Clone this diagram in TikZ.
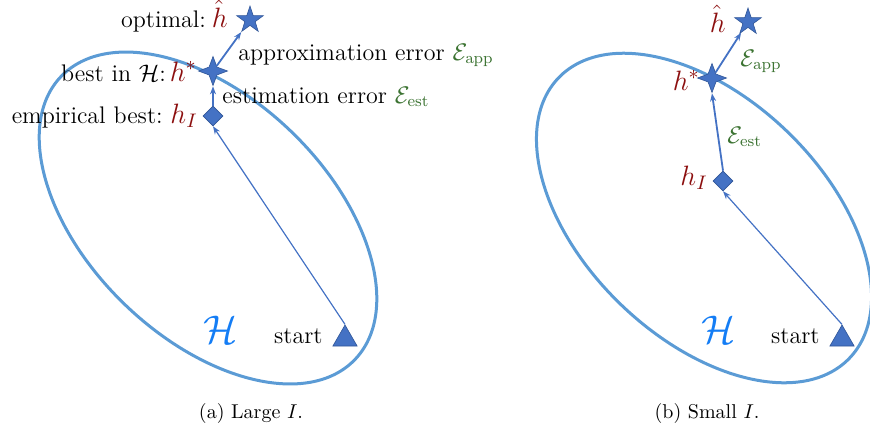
\RequirePackage{fix-cm}
\documentclass[tikz,border=0pt]{standalone}
\usetikzlibrary{shapes.geometric,arrows.meta}
\definecolor{hypblue}{RGB}{91,155,213}
\definecolor{markblue}{RGB}{68,114,196}
\definecolor{markedge}{RGB}{47,85,151}
\definecolor{hred}{RGB}{140,15,15}
\definecolor{errgreen}{RGB}{60,115,50}
\definecolor{calblue}{RGB}{20,125,245}

\begin{document}
\begin{tikzpicture}[x=0.5pt, y=-0.5pt,
		hyp/.style = {draw=hypblue, line width=1.5pt},
		tri/.style = {regular polygon, regular polygon sides=3, fill=markblue, draw=markedge, line width=0.3pt, inner sep=0pt, minimum size=14pt},
		dia/.style = {diamond, fill=markblue, draw=markedge, line width=0.3pt, inner sep=0pt, minimum size=10pt},
		st4/.style = {star, star points=4, star point ratio=2.6, fill=markblue, draw=markedge, line width=0.3pt, inner sep=0pt, minimum size=14.5pt},
		st5/.style = {star, star points=5, star point ratio=2.6, fill=markblue, draw=markedge, line width=0.3pt, inner sep=0pt, minimum size=14pt},
		lab/.style = {font=\fontsize{12}{14}\selectfont, inner sep=0pt},
		hm/.style = {font=\fontsize{14}{16}\selectfont, text=hred, inner sep=0pt},
		hs/.style = {font=\fontsize{20}{24}\selectfont, text=calblue, inner sep=0pt},
		subcap/.style = {font=\fontsize{10}{12}\selectfont, inner sep=0pt},
		r/.style = {-{Stealth[length=4pt, width=3pt]}, draw=markblue, line width=0.9pt},
		rl/.style = {r, line width=0.6pt}
		]
		
		\useasboundingbox (0,0) rectangle (870,429);
		
		%Hypothesis spaces
		\draw[hyp] (208,218) ellipse [x radius=204, y radius=120, rotate=-44];
		\draw[hyp] (704,218) ellipse [x radius=202, y radius=120, rotate=-44];
		
		%Nodes (a)
		\node[tri]	(s1)	at	(345,339)	{};
		\node[dia]	(d1)	at	(213,116)	{};
		\node[st4]	(b1)	at	(213,71)	{};
		\node[st5]	(o1)	at	(250,20)	{};
		\node[hs, anchor=base]	(H1)	at	(221,343)	{$\mathcal{H}$};
		\node[lab, anchor=base east]	(ls1)	at	(323,343)	{start};
		\node[hm, anchor=base east]	(mo1)	at	(228,27)	{$\hat{h}$};
		\node[lab, anchor=base east]	(lo1)	at	([xshift=-2.5pt]mo1.base west)	{optimal:};
		\node[hm, anchor=base east]	(mb1)	at	(197,81)	{$h^*$};
		\node[lab, anchor=base east]	(lb1)	at	([xshift=-1.5pt]mb1.base west)	{best in $\mathcal{H}$:};
		\node[hm, anchor=base east]	(md1)	at	(198,123)	{$h_I$};
		\node[lab, anchor=base east]	(ld1)	at	([xshift=-3.5pt]md1.base west)	{empirical best:};
		\node[lab, anchor=base west]	(la1)	at	(238,60)	{approximation error \textcolor{errgreen}{$\mathcal{E}_{\mathrm{app}}$}};
		\node[lab, anchor=base west]	(le1)	at	(222,103)	{estimation error \textcolor{errgreen}{$\mathcal{E}_{\mathrm{est}}$}};
		\node[subcap, anchor=base]	(c1)	at	(251,418)	{(a) Large $I$.};
		
		%Nodes (b)
		\node[tri]	(s2)	at	(842,339)	{};
		\node[dia]	(d2)	at	(723,181)	{};
		\node[st4]	(b2)	at	(712,78)	{};
		\node[st5]	(o2)	at	(748,22)	{};
		\node[hs, anchor=base]	(H2)	at	(719,343)	{$\mathcal{H}$};
		\node[lab, anchor=base east]	(ls2)	at	(820,343)	{start};
		\node[hm, anchor=base east]	(mo2)	at	(726,32)	{$\hat{h}$};
		\node[hm, anchor=base east]	(mb2)	at	(700,90)	{$h^*$};
		\node[hm, anchor=base east]	(md2)	at	(708,185)	{$h_I$};
		\node[lab, anchor=base west, text=errgreen]	(la2)	at	(740,66)	{$\mathcal{E}_{\mathrm{app}}$};
		\node[lab, anchor=base west, text=errgreen]	(le2)	at	(727,143)	{$\mathcal{E}_{\mathrm{est}}$};
		\node[subcap, anchor=base]	(c2)	at	(707,418)	{(b) Small $I$.};
		
		%Lines
		\draw[rl]	(s1.corner 1)	--	(d1.south);
		\draw[r]	(d1.north)	--	(b1.south);
		\draw[r]	(b1)	--	(o1);
		\draw[rl]	(s2.corner 1)	--	(d2.south);
		\draw[r]	(d2.north)	--	(b2.south);
		\draw[r]	(b2)	--	(o2);
	\end{tikzpicture}
\end{document}
